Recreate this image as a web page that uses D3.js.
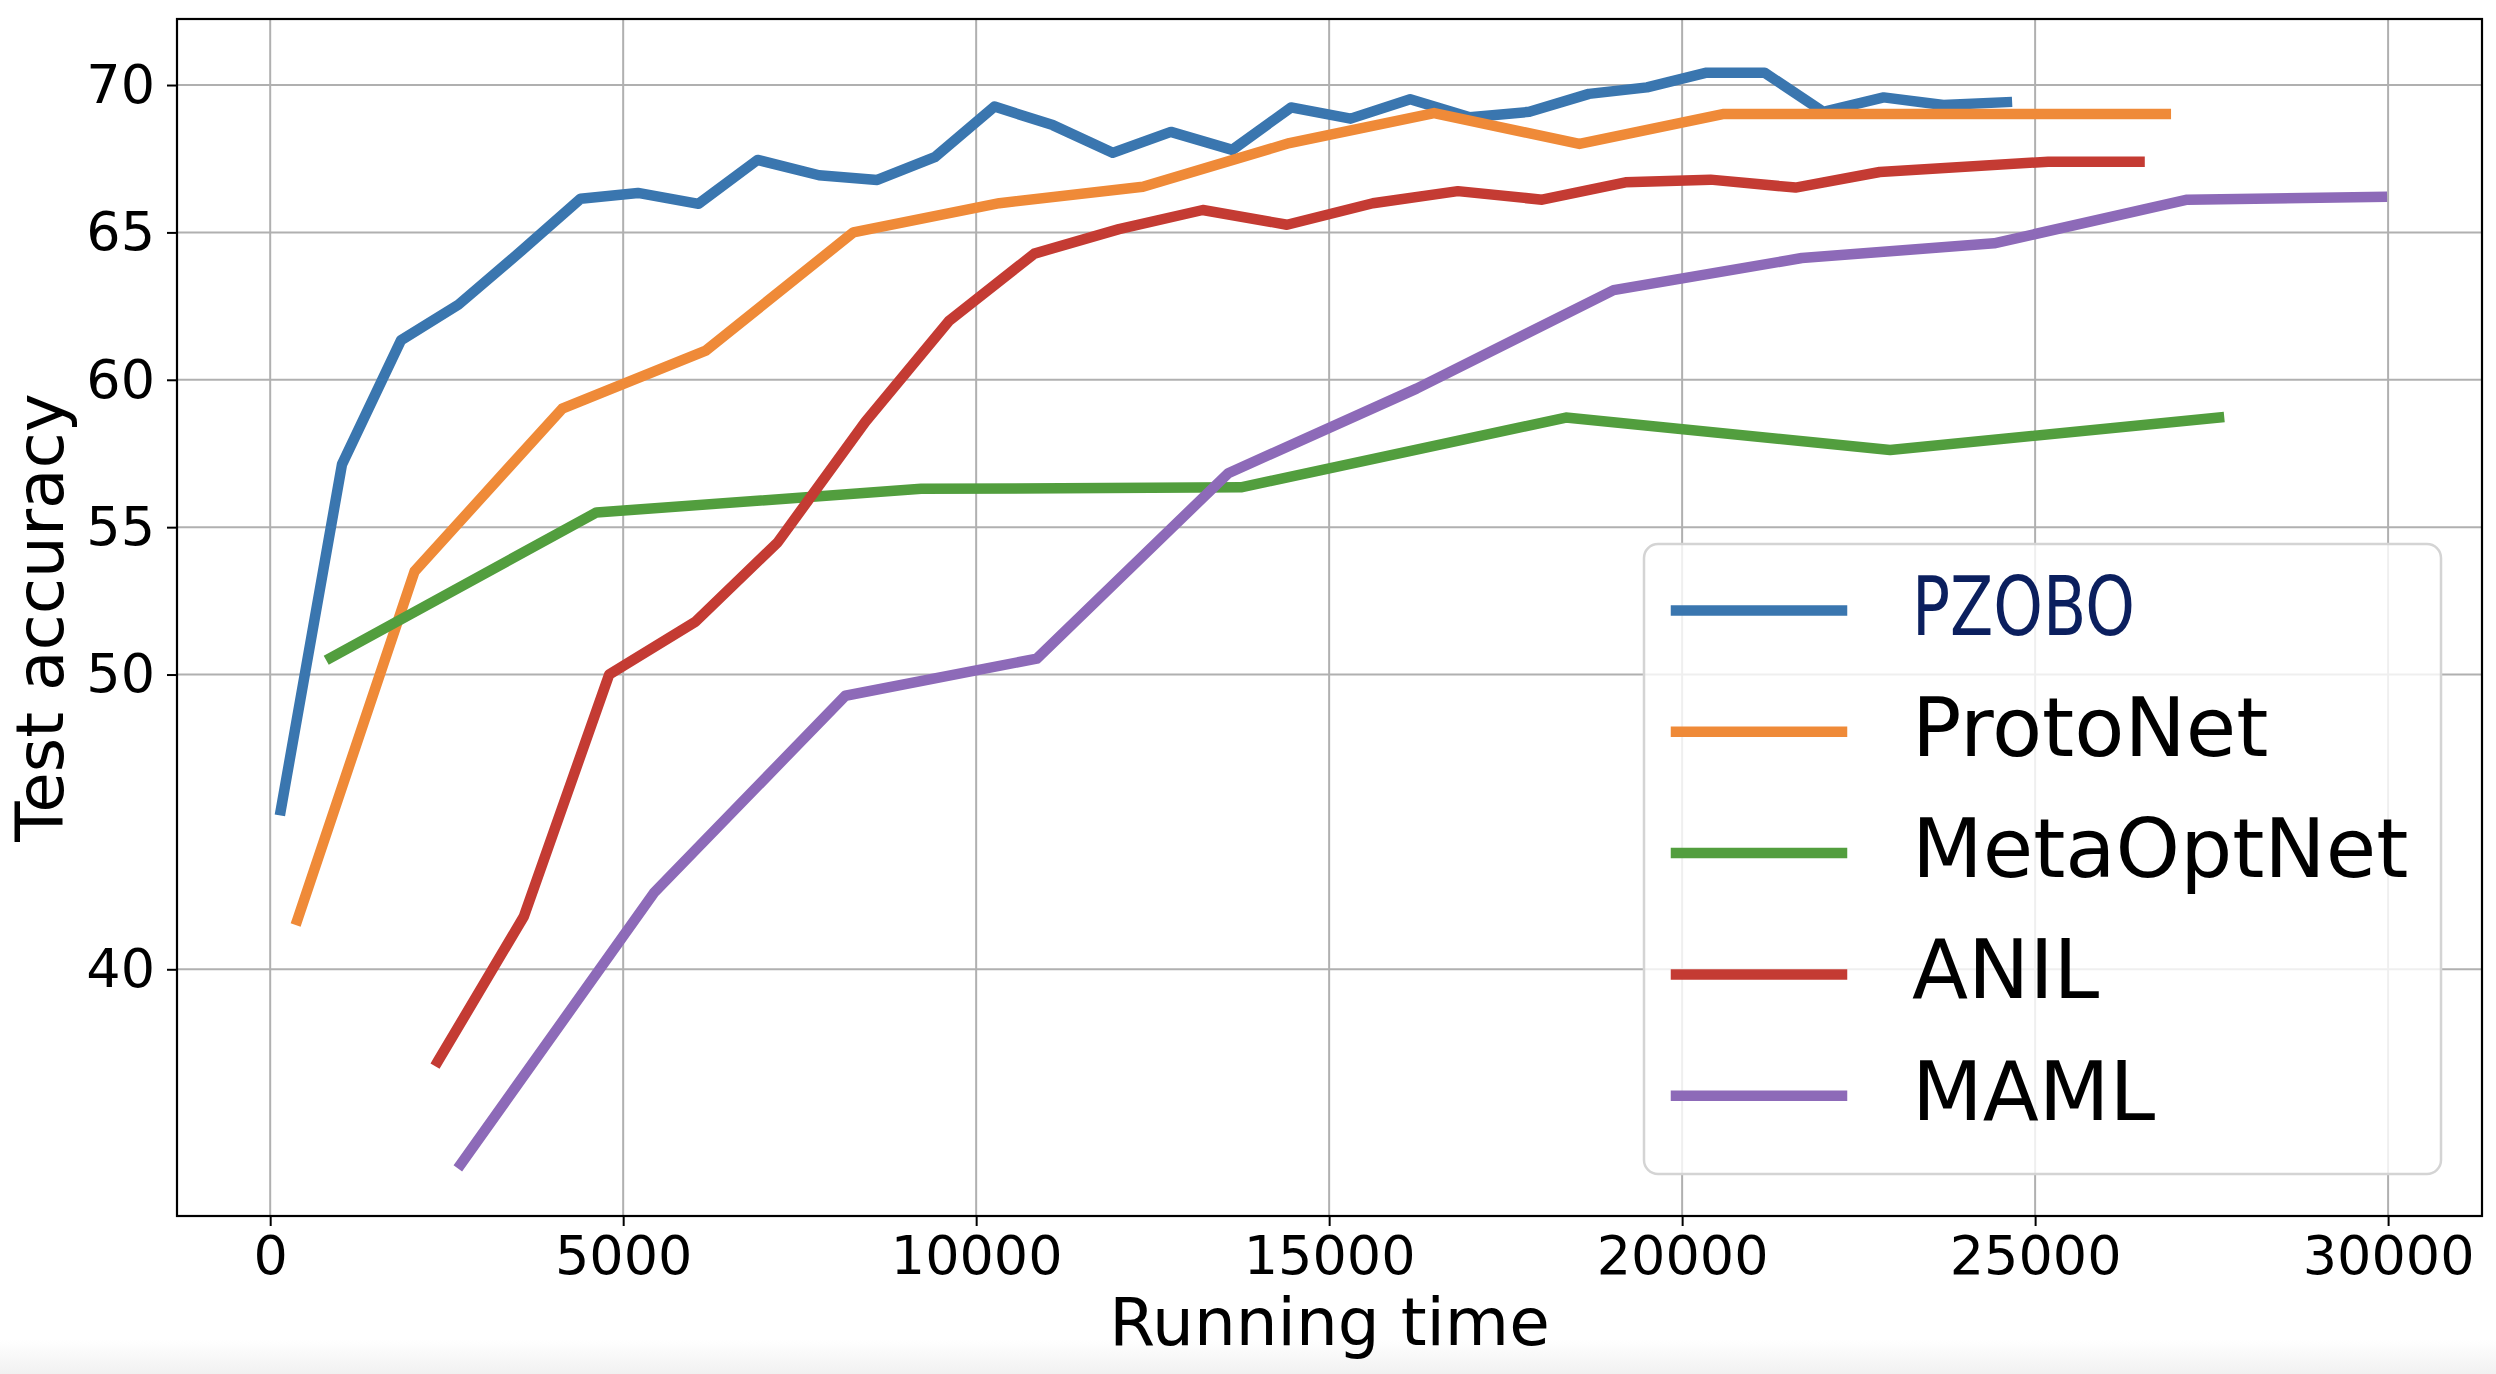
<!DOCTYPE html>
<html>
<head>
<meta charset="utf-8">
<script src="https://cdn.jsdelivr.net/npm/d3@7"></script>
<style>
  html, body { margin: 0; padding: 0; background: #fff; }
  text { font-family: "DejaVu Sans", sans-serif; }
</style>
</head>
<body>
<svg id="chart"></svg>
<script>
// Series: [running time, test accuracy]
const pzobo = [
  [150, 45.4], [1017, 57.13], [1853, 61.34], [2667, 62.55], [3571, 64.4], [4396, 66.14],
  [5209, 66.34], [6068, 65.97], [6904, 67.46], [7774, 66.94], [8599, 66.78], [9413, 67.55],
  [10260, 69.27], [11085, 68.64], [11933, 67.7], [12758, 68.41], [13628, 67.8], [14460, 69.24],
  [15304, 68.86], [16148, 69.52], [16992, 68.91], [17836, 69.09], [18680, 69.7], [19502, 69.92],
  [20346, 70.42], [21167, 70.42], [22000, 69.09], [22855, 69.58], [23700, 69.32], [24600, 69.42]
];
const protonet = [
  [384, 41.67], [2045, 53.5], [4136, 59.02], [6170, 60.99], [8260, 65.0], [10328, 65.99],
  [12362, 66.55], [14437, 68.03], [16486, 69.05], [18545, 68.0], [20593, 69.02], [26851, 69.02]
];
const metaoptnet = [
  [859, 50.57], [4622, 55.5], [9221, 56.3], [13750, 56.35], [18354, 58.72], [22946, 57.62], [27605, 58.72]
];
const anil = [
  [2373, 36.87], [3593, 41.79], [4802, 50.0], [6023, 51.79], [7187, 54.48], [8430, 58.57],
  [9616, 62.0], [10825, 64.28], [12023, 65.11], [13210, 65.76], [14403, 65.26], [15619, 65.99],
  [16823, 66.4], [18016, 66.11], [19198, 66.7], [20402, 66.79], [21606, 66.52], [22799, 67.05],
  [25185, 67.4], [26479, 67.4]
];
const maml = [
  [2701, 33.39], [5435, 42.59], [8147, 49.28], [10859, 50.54], [13571, 56.83], [16238, 59.7],
  [19029, 63.04], [21696, 64.13], [24419, 64.63], [27154, 66.11], [29911, 66.21]
];

const seriesNames = ["PZOBO", "ProtoNet", "MetaOptNet", "ANIL", "MAML"];
const seriesData = [pzobo, protonet, metaoptnet, anil, maml];
const seriesColors = ["#3a76af", "#ef8a38", "#529e3e", "#c43b33", "#8d6ab8"];
const labelColors = ["#0b1f5e", "#000", "#000", "#000", "#000"];

const xTicks = [0, 5000, 10000, 15000, 20000, 25000, 30000];
const yTicks = [40, 50, 55, 60, 65, 70];

const width = 2496;
const height = 1374;
const plot = { left: 177, right: 2482, top: 19, bottom: 1216 };

const svg = d3.select("#chart")
  .attr("width", width)
  .attr("height", height);

// faint grey band at the very bottom of the screenshot
const grad = svg.append("defs").append("linearGradient")
  .attr("id", "fade").attr("x1", 0).attr("y1", 0).attr("x2", 0).attr("y2", 1);
grad.append("stop").attr("offset", "0%").attr("stop-color", "#fff");
grad.append("stop").attr("offset", "100%").attr("stop-color", "#f1f1f1");
svg.append("rect").attr("x", 0).attr("y", 1340).attr("width", width).attr("height", 34)
  .attr("fill", "url(#fade)");

const x = d3.scaleLinear().domain([-1320, 31330]).range([plot.left, plot.right]);
const y = d3.scaleLinear().domain([31.63, 72.24]).range([plot.bottom, plot.top]);

// grid
svg.append("g")
  .selectAll("line")
  .data(xTicks)
  .join("line")
  .attr("x1", d => x(d)).attr("x2", d => x(d))
  .attr("y1", plot.top).attr("y2", plot.bottom)
  .attr("stroke", "#b0b0b0").attr("stroke-width", 2);

svg.append("g")
  .selectAll("line")
  .data(yTicks)
  .join("line")
  .attr("x1", plot.left).attr("x2", plot.right)
  .attr("y1", d => y(d)).attr("y2", d => y(d))
  .attr("stroke", "#b0b0b0").attr("stroke-width", 2);

// axes
const xAxis = svg.append("g")
  .attr("transform", `translate(0,${plot.bottom})`)
  .call(d3.axisBottom(x).tickValues(xTicks).tickFormat(d3.format("d")).tickSize(10).tickPadding(10));
const yAxis = svg.append("g")
  .attr("transform", `translate(${plot.left},0)`)
  .call(d3.axisLeft(y).tickValues(yTicks).tickFormat(d3.format("d")).tickSize(10).tickPadding(12));

[xAxis, yAxis].forEach(ax => {
  ax.select(".domain").remove();
  ax.selectAll(".tick line").attr("stroke", "#000").attr("stroke-width", 2);
  ax.selectAll(".tick text").attr("fill", "#000").style("font-size", "54px")
    .style("font-family", "'DejaVu Sans', sans-serif");
});

// frame
svg.append("rect")
  .attr("x", plot.left).attr("y", plot.top)
  .attr("width", plot.right - plot.left).attr("height", plot.bottom - plot.top)
  .attr("fill", "none").attr("stroke", "#000").attr("stroke-width", 2.2);

// lines
const line = d3.line().x(d => x(d[0])).y(d => y(d[1]));
svg.append("g")
  .selectAll("path")
  .data(seriesData)
  .join("path")
  .attr("d", line)
  .attr("fill", "none")
  .attr("stroke", (d, i) => seriesColors[i])
  .attr("stroke-width", 10.5)
  .attr("stroke-linejoin", "round")
  .attr("stroke-linecap", "square");

// axis labels
svg.append("text")
  .attr("x", (plot.left + plot.right) / 2).attr("y", 1345)
  .attr("text-anchor", "middle")
  .style("font-size", "66px")
  .text("Running time");

svg.append("text")
  .attr("transform", `translate(63,${(plot.top + plot.bottom) / 2}) rotate(-90)`)
  .attr("text-anchor", "middle")
  .style("font-size", "66px")
  .text("Test accuracy");

// legend
const legend = svg.append("g");
legend.append("rect")
  .attr("x", 1644).attr("y", 544)
  .attr("width", 797).attr("height", 630)
  .attr("rx", 14).attr("ry", 14)
  .attr("fill", "#fff").attr("fill-opacity", 0.8)
  .attr("stroke", "#d4d4d4").attr("stroke-width", 2.5);

const rowY = i => 610.5 + i * 121.3;
legend.selectAll("line")
  .data(seriesNames)
  .join("line")
  .attr("x1", 1676).attr("x2", 1842)
  .attr("y1", (d, i) => rowY(i)).attr("y2", (d, i) => rowY(i))
  .attr("stroke", (d, i) => seriesColors[i])
  .attr("stroke-width", 10.5)
  .attr("stroke-linecap", "square");

legend.selectAll("text")
  .data(seriesNames)
  .join("text")
  .attr("x", 1912)
  .attr("y", (d, i) => rowY(i) + 24)
  .attr("fill", (d, i) => labelColors[i])
  .style("font-size", "82px")
  .text(d => d);

// the first label is narrower in the original
legend.selectAll("text")
  .filter((d, i) => i === 0)
  .attr("textLength", 223)
  .attr("lengthAdjust", "spacingAndGlyphs");
</script>
</body>
</html>
